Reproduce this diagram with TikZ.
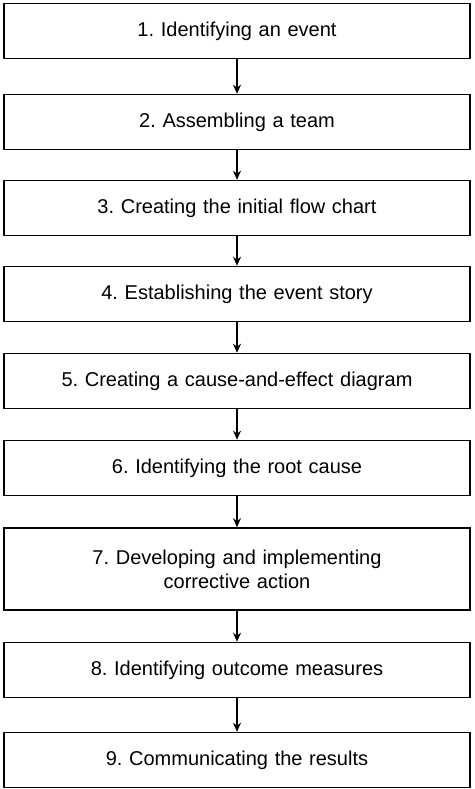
\documentclass[tikz,border=0pt]{standalone}
\usepackage{fontspec}
\setmainfont{Liberation Sans}
\usetikzlibrary{arrows.meta}
\frenchspacing
\tikzset{
  stage/.style={draw, line width=1.6pt, minimum width=466pt, minimum height=55pt,
    text width=440pt, align=center, font=\fontsize{20}{24}\selectfont, inner sep=0pt},
  flow/.style={-{Stealth[length=9pt,width=8pt]}, line width=1.3pt}
}
\begin{document}
\begin{tikzpicture}[x=1pt,y=-1pt]
  \useasboundingbox (0,0) rectangle (474,789);
  \node[stage] (s1) at (237,31)  {1. Identifying an event};
  \node[stage] (s2) at (237,122) {2. Assembling a team};
  \node[stage] (s3) at (237,208) {3. Creating the initial flow chart};
  \node[stage] (s4) at (237,294) {4. Establishing the event story};
  \node[stage] (s5) at (237,381) {5. Creating a cause-and-effect diagram};
  \node[stage] (s6) at (237,468) {6. Identifying the root cause};
  \node[stage, minimum height=82pt] (s7) at (237,569) {7. Developing and implementing\\corrective action};
  \node[stage] (s8) at (237,670) {8. Identifying outcome measures};
  \node[stage] (s9) at (237,760) {9. Communicating the results};
  \foreach \a/\b in {s1/s2,s2/s3,s3/s4,s4/s5,s5/s6,s6/s7,s7/s8,s8/s9}
    \draw[flow] (\a) -- (\b);
\end{tikzpicture}
\end{document}
